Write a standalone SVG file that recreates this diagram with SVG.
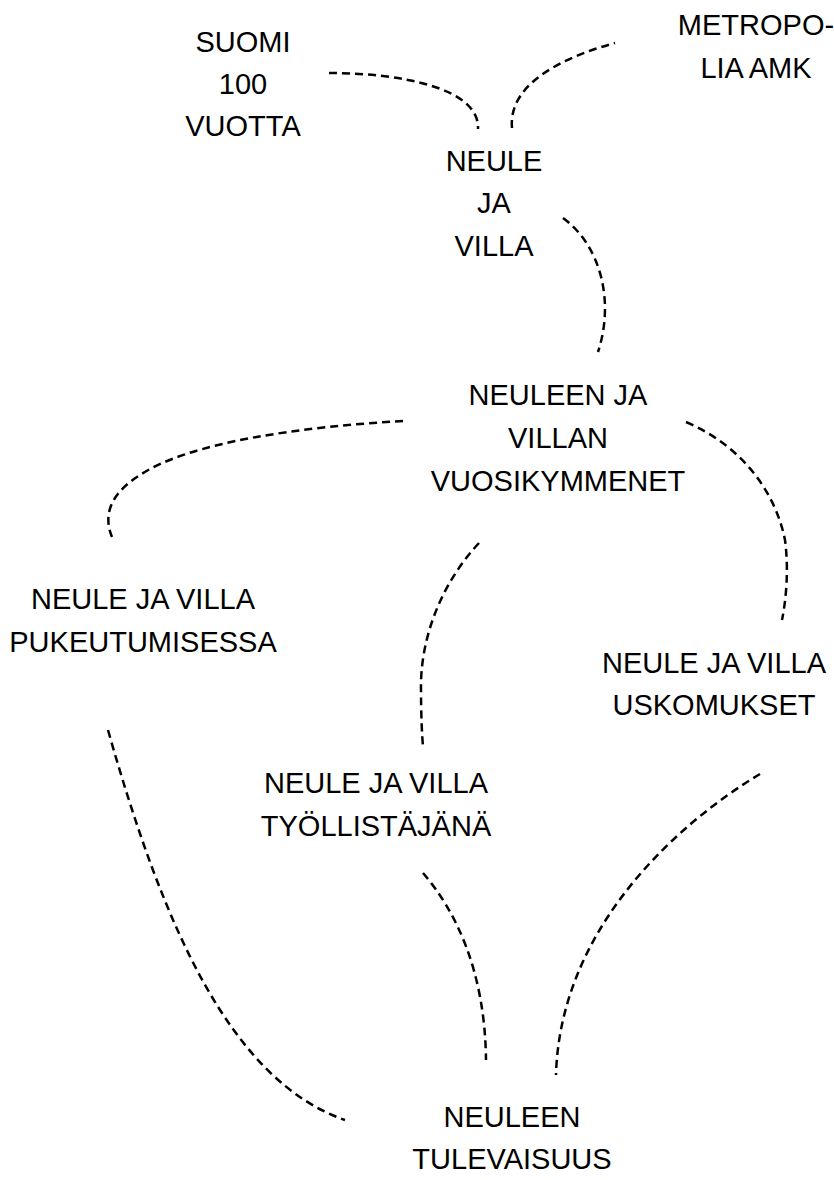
<svg xmlns="http://www.w3.org/2000/svg" width="834" height="1180" viewBox="0 0 834 1180">
<style>
text{font-family:"Liberation Sans",Arial,sans-serif;font-size:29px;fill:#000;text-anchor:middle}
.c{fill:none;stroke:#000;stroke-width:2.5;stroke-dasharray:8 5}
</style>
<rect width="834" height="1180" fill="#fff"/>
<g id="connectors">
<path class="c" d="M329,73 C400,73 480,88 478,129"/>
<path class="c" d="M512,128 C508,85 560,58 615,43"/>
<path class="c" d="M563,218 C600,245 615,300 598,352"/>
<path class="c" d="M403,421 C300,427 190,442 140,475 C105,497 105,520 112,537"/>
<path class="c" d="M686,422 C740,445 775,490 785,540 C789,570 786,600 782,620"/>
<path class="c" d="M479,543 C440,585 420,640 421,690 C421,715 422,735 423,747"/>
<path class="c" d="M108,730 C163,925 230,1080 345,1120"/>
<path class="c" d="M423,873 C455,910 485,970 486,1060"/>
<path class="c" d="M760,774 C675,825 560,930 556,1075"/>
</g>
<g id="suomi"><text x="243" y="52">SUOMI</text><text x="243" y="94">100</text><text x="243" y="136">VUOTTA</text></g>
<g id="metropolia"><text x="756" y="35">METROPO-</text><text x="756" y="78">LIA AMK</text></g>
<g id="neule-ja-villa"><text x="494" y="171">NEULE</text><text x="494" y="213">JA</text><text x="494" y="256">VILLA</text></g>
<g id="vuosikymmenet"><text x="558" y="405">NEULEEN JA</text><text x="558" y="448">VILLAN</text><text x="558" y="491">VUOSIKYMMENET</text></g>
<g id="pukeutumisessa"><text x="143" y="609">NEULE JA VILLA</text><text x="143" y="652">PUKEUTUMISESSA</text></g>
<g id="uskomukset"><text x="714" y="673">NEULE JA VILLA</text><text x="714" y="715">USKOMUKSET</text></g>
<g id="tyollistajana"><text x="376" y="793">NEULE JA VILLA</text><text x="376" y="836">TYÖLLISTÄJÄNÄ</text></g>
<g id="tulevaisuus"><text x="512" y="1127">NEULEEN</text><text x="512" y="1169">TULEVAISUUS</text></g>
</svg>
